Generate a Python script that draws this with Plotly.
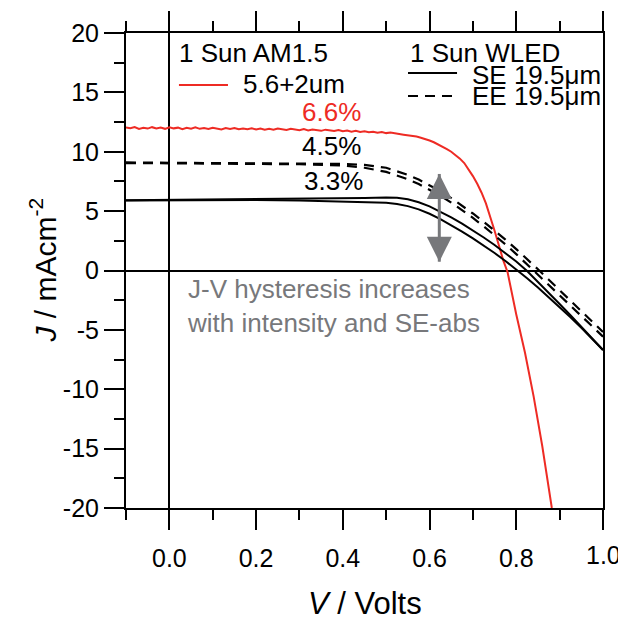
import plotly.graph_objects as go

# ---------------- data ----------------
V_red = [-0.10, -0.09, -0.08, -0.07, -0.06, -0.05, -0.04, -0.03, -0.02, -0.01,
         0.00, 0.01, 0.02, 0.03, 0.04, 0.05, 0.06, 0.07, 0.08, 0.09,
         0.10, 0.11, 0.12, 0.13, 0.14, 0.15, 0.16, 0.17, 0.18, 0.19,
         0.20, 0.21, 0.22, 0.23, 0.24, 0.25, 0.26, 0.27, 0.28, 0.29,
         0.30, 0.31, 0.32, 0.33, 0.34, 0.35, 0.36, 0.37, 0.38, 0.39,
         0.40, 0.41, 0.42, 0.43, 0.44, 0.45, 0.46, 0.47, 0.48, 0.49,
         0.50, 0.51, 0.52, 0.53, 0.54, 0.55, 0.56, 0.57, 0.58, 0.59,
         0.60, 0.61, 0.62, 0.63, 0.64, 0.65, 0.66, 0.67, 0.68, 0.69,
         0.70, 0.71, 0.72, 0.73, 0.74, 0.75, 0.76, 0.77, 0.78, 0.79,
         0.80, 0.82, 0.84, 0.86, 0.882]
J_red = [12.05, 11.98, 12.08, 11.92, 12.02, 11.95, 12.07, 11.96, 12.04, 11.93,
         12.06, 11.97, 12.03, 11.90, 12.01, 11.94, 12.05, 11.93, 11.99, 11.91,
         12.02, 11.95, 11.88, 11.99, 11.92, 12.00, 11.89, 11.96, 11.90, 11.98,
         11.87, 11.95, 11.86, 11.93, 11.85, 11.96, 11.88, 11.84, 11.93, 11.86,
         11.82, 11.91, 11.80, 11.88, 11.83, 11.76, 11.86, 11.79, 11.74, 11.83,
         11.72, 11.78, 11.68, 11.76, 11.66, 11.72, 11.64, 11.69, 11.60, 11.66,
         11.57, 11.62, 11.53, 11.50, 11.44, 11.40, 11.33, 11.28, 11.18, 11.08,
         10.95, 10.80, 10.62, 10.42, 10.22, 10.00, 9.74, 9.42, 9.05, 8.55,
         7.95, 7.30, 6.55, 5.65, 4.55, 3.35, 2.10, 0.85, -0.15, -1.95,
         -3.70, -6.90, -10.60, -14.80, -20.00]

V_dev = [-0.1, 0.0, 0.1, 0.2, 0.3, 0.4, 0.45, 0.5, 0.525, 0.55, 0.575, 0.6,
         0.625, 0.65, 0.675, 0.7, 0.725, 0.75, 0.775, 0.8, 0.825, 0.85,
         0.875, 0.9, 0.925, 0.95, 0.975, 1.0]
J_se_up = [5.92, 5.95, 5.97, 5.99, 6.01, 6.06, 6.10, 6.15, 6.13, 6.00, 5.75, 5.40,
           4.97, 4.48, 3.95, 3.38, 2.78, 2.15, 1.48, 0.76, -0.05, -0.95,
           -1.88, -2.82, -3.77, -4.73, -5.70, -6.70]
J_se_lo = [5.90, 5.93, 5.94, 5.93, 5.90, 5.83, 5.77, 5.70, 5.60, 5.42, 5.15, 4.78,
           4.33, 3.83, 3.28, 2.70, 2.10, 1.47, 0.80, 0.10, -0.65, -1.43,
           -2.24, -3.07, -3.93, -4.82, -5.75, -6.70]
J_ee_up = [9.10, 9.06, 9.03, 9.01, 9.00, 8.97, 8.90, 8.65, 8.38, 8.05, 7.66, 7.20,
           6.68, 6.10, 5.47, 4.80, 4.10, 3.37, 2.60, 1.80, 0.97, 0.10,
           -0.78, -1.66, -2.54, -3.42, -4.30, -5.18]
J_ee_lo = [9.05, 9.02, 9.00, 8.98, 8.95, 8.85, 8.65, 8.30, 8.02, 7.68, 7.28, 6.82,
           6.30, 5.72, 5.10, 4.43, 3.72, 2.98, 2.20, 1.38, 0.53, -0.35,
           -1.22, -2.09, -2.96, -3.83, -4.70, -5.57]

arrow_V = [0.6225, 0.6225]
arrow_J = [8.13, 0.74]

eff_labels = ["6.6%", "4.5%", "3.3%"]
eff_V = [0.375, 0.375, 0.378]
eff_J = [13.35, 10.48, 7.54]
eff_colors = ["#ee2b24", "black", "black"]

x_ticks = [0.0, 0.2, 0.4, 0.6, 0.8, 1.0]
x_ticktext = ["0.0", "0.2", "0.4", "0.6", "0.8", ""]
x_edge_label = "1.0"
y_ticks = [-20, -15, -10, -5, 0, 5, 10, 15, 20]
y_ticktext = ["-20", "-15", "-10", "-5", "0", "5", "10", "15", "20"]

FONT = "Liberation Sans, Arial, Helvetica, sans-serif"
RED = "#ee2b24"
GRAY = "#77787b"

fig = go.Figure()

fig.add_trace(go.Scatter(x=V_red, y=J_red, mode="lines",
                         line=dict(color=RED, width=2), showlegend=False))
fig.add_trace(go.Scatter(x=V_dev, y=J_se_up, mode="lines",
                         line=dict(color="black", width=2), showlegend=False))
fig.add_trace(go.Scatter(x=V_dev, y=J_se_lo, mode="lines",
                         line=dict(color="black", width=2), showlegend=False))
fig.add_trace(go.Scatter(x=V_dev, y=J_ee_up, mode="lines",
                         line=dict(color="black", width=2.2, dash="10px,7px"),
                         showlegend=False))
fig.add_trace(go.Scatter(x=V_dev, y=J_ee_lo, mode="lines",
                         line=dict(color="black", width=2.2, dash="10px,7px"),
                         showlegend=False))
# double-headed gray arrow
fig.add_trace(go.Scatter(x=arrow_V, y=arrow_J, mode="lines+markers",
                         line=dict(color=GRAY, width=3),
                         marker=dict(symbol=["arrow-up", "arrow-down"], size=25,
                                     color=GRAY, line=dict(width=0)),
                         showlegend=False))

for t, vx, jy, c in zip(eff_labels, eff_V, eff_J, eff_colors):
    fig.add_annotation(x=vx, y=jy, xref="x", yref="y", text=t, showarrow=False,
                       font=dict(family=FONT, size=26, color=c),
                       xanchor="center", yanchor="middle")

fig.add_annotation(x=0.036, y=-2.99, xref="x", yref="y",
                   text="J-V hysteresis increases<br>with intensity and SE-abs",
                   showarrow=False, align="left", xanchor="left", yanchor="middle",
                   font=dict(family=FONT, size=26, color=GRAY))

# legend blocks (paper coords)
leg_font = dict(family=FONT, size=26, color="black")
fig.add_annotation(x=0.107, y=0.958, xref="paper", yref="paper", text="1 Sun AM1.5",
                   showarrow=False, xanchor="left", yanchor="middle", font=leg_font)
fig.add_annotation(x=0.2403, y=0.8926, xref="paper", yref="paper", text="5.6+2um",
                   showarrow=False, xanchor="left", yanchor="middle", font=leg_font)
fig.add_annotation(x=0.5912, y=0.958, xref="paper", yref="paper", text="1 Sun WLED",
                   showarrow=False, xanchor="left", yanchor="middle", font=leg_font)
fig.add_annotation(x=0.7212, y=0.9116, xref="paper", yref="paper", text="SE 19.5μm",
                   showarrow=False, xanchor="left", yanchor="middle", font=leg_font)
fig.add_annotation(x=0.7212, y=0.8674, xref="paper", yref="paper", text="EE 19.5μm",
                   showarrow=False, xanchor="left", yanchor="middle", font=leg_font)
fig.add_shape(type="line", xref="paper", yref="paper", x0=0.111, x1=0.2138,
              y0=0.8905, y1=0.8905, line=dict(color=RED, width=2))
fig.add_shape(type="line", xref="paper", yref="paper", x0=0.5912, x1=0.694,
              y0=0.9158, y1=0.9158, line=dict(color="black", width=2))
fig.add_shape(type="line", xref="paper", yref="paper", x0=0.5912, x1=0.694,
              y0=0.8674, y1=0.8674, line=dict(color="black", width=2.2, dash="10px,7px"))

# tick label at the right edge (clipped by the page, as in the original)
fig.add_annotation(x=x_ticks[-1], y=-0.099, xref="x", yref="paper",
                   text=x_edge_label, showarrow=False,
                   xanchor="center", yanchor="middle",
                   font=dict(family=FONT, size=25, color="black"))

# axis titles
fig.add_annotation(x=0.5, y=-0.2, xref="paper", yref="paper",
                   text="<i>V</i> / Volts", showarrow=False,
                   xanchor="center", yanchor="middle",
                   font=dict(family=FONT, size=31, color="black"))
fig.add_annotation(x=-0.174, y=0.5, xref="paper", yref="paper",
                   text="<i>J</i> / mAcm<sup>-2</sup>", showarrow=False, textangle=-90,
                   xanchor="center", yanchor="middle",
                   font=dict(family=FONT, size=30, color="black"))

axis_common = dict(showline=True, linecolor="black", linewidth=2,
                   showgrid=False, zeroline=True, zerolinecolor="black",
                   zerolinewidth=2, ticks="outside", tickcolor="black",
                   tickwidth=2, ticklen=20,
                   tickfont=dict(family=FONT, size=25, color="black"))

fig.update_layout(
    width=618, height=618,
    margin=dict(l=126, r=15, t=33, b=110),
    paper_bgcolor="white", plot_bgcolor="white",
    xaxis=dict(range=[-0.1, 1.0], tickmode="array", tickvals=x_ticks,
               ticktext=x_ticktext, mirror="ticks", ticklabelstandoff=7,
               minor=dict(dtick=0.1, tick0=0, ticks="outside", ticklen=10,
                          tickwidth=2, tickcolor="black"),
               **axis_common),
    yaxis=dict(range=[-20, 20], tickmode="array", tickvals=y_ticks,
               ticktext=y_ticktext, mirror=True,
               minor=dict(dtick=2.5, tick0=0, ticks="outside", ticklen=10,
                          tickwidth=2, tickcolor="black"),
               **axis_common),
    yaxis2=dict(range=[-20, 20], overlaying="y", side="right", showline=False,
                showgrid=False, zeroline=False, showticklabels=False,
                ticks="outside", ticklen=10, tickwidth=2, tickcolor="black",
                tickmode="linear", dtick=2.5, tick0=0),
)

fig.write_html("out.html")
